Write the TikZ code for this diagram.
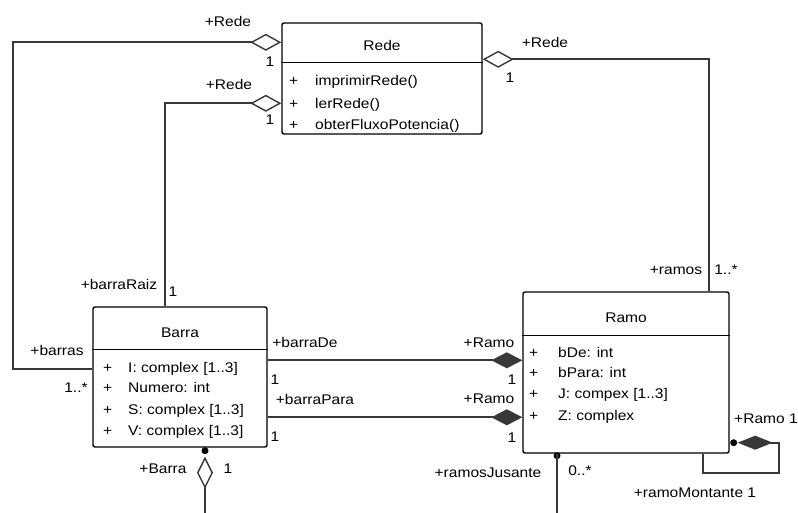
\documentclass[tikz,border=0pt]{standalone}
\usepackage{fontspec}
\setmainfont{Liberation Sans}[FakeStretch=1.11]
\usetikzlibrary{arrows.meta}
\begin{document}
\begin{tikzpicture}[x=1pt,y=-1pt,
  font=\fontsize{14}{16}\selectfont,
  umlbox/.style={draw=black, line width=1.4pt, fill=white, rounded corners=2pt, inner sep=0pt},
  conn/.style={draw=black!78, line width=1.8pt},
  agg/.style={conn, {Diamond[open, length=31pt, width=17pt, line width=1.4pt]}-},
  comp/.style={conn, {Diamond[length=31pt, width=16pt]}-},
  lbl/.style={inner sep=0pt, anchor=base},
  lblw/.style={inner sep=0pt, anchor=base west},
  row/.style={inner sep=0pt, anchor=base west},
  title/.style={inner sep=0pt, anchor=base},
  dot/.style={fill=black}
]
\useasboundingbox (0,0) rectangle (798,513);

% ---------- classes ----------
\node[umlbox, minimum width=200pt, minimum height=111pt] (rede) at (382,78.5) {};
\draw[line width=1.4pt] ([yshift=-40pt]rede.north west) -- ([yshift=-40pt]rede.north east);
\node[title] (rede-t) at (382,51) {Rede};
\node[row] (rede-p1) at (289,86) {+};
\node[row] (rede-p2) at (289,109) {+};
\node[row] (rede-p3) at (289,130) {+};
\node[row] (rede-r1) at (315,86) {imprimirRede()};
\node[row] (rede-r2) at (315,109) {lerRede()};
\node[row] (rede-r3) at (315,130) {obterFluxoPotencia()};

\node[umlbox, minimum width=174pt, minimum height=140pt] (barra) at (180,377) {};
\draw[line width=1.4pt] ([yshift=-43pt]barra.north west) -- ([yshift=-43pt]barra.north east);
\node[title] (barra-t) at (180,337) {Barra};
\node[row] (barra-p1) at (103,372) {+};
\node[row] (barra-p2) at (103,392) {+};
\node[row] (barra-p3) at (103,414) {+};
\node[row] (barra-p4) at (103,435) {+};
\node[row] (barra-r1) at (128,372) {I: complex [1..3]};
\node[row] (barra-r2) at (128,392) {Numero: int};
\node[row] (barra-r3) at (128,414) {S: complex [1..3]};
\node[row] (barra-r4) at (128,435) {V: complex [1..3]};

\node[umlbox, minimum width=206pt, minimum height=161pt] (ramo) at (626,372.5) {};
\draw[line width=1.4pt] ([yshift=-44pt]ramo.north west) -- ([yshift=-44pt]ramo.north east);
\node[title] (ramo-t) at (626,322) {Ramo};
\node[row] (ramo-p1) at (529,357) {+};
\node[row] (ramo-p2) at (529,377) {+};
\node[row] (ramo-p3) at (529,398) {+};
\node[row] (ramo-p4) at (529,420) {+};
\node[row] (ramo-r1) at (558,357) {bDe: int};
\node[row] (ramo-r2) at (558,377) {bPara: int};
\node[row] (ramo-r3) at (558,398) {J: compex [1..3]};
\node[row] (ramo-r4) at (558,420) {Z: complex};

% ---------- connector bends ----------
\coordinate (c1) at (13,200);
\coordinate (c2) at (165,200);
\coordinate (c3) at (709,200);
\coordinate (sb) at (205,520);
\coordinate (rb) at (557,520);
\coordinate (s1) at (779,473);
\coordinate (s2) at (703,473);

% Rede -- Barra (barras)
\draw[agg] ([yshift=-20pt]rede.north west) -| (c1) |- ([yshift=-63pt]barra.north west);
% Rede -- Barra (barraRaiz)
\draw[agg] ([yshift=-81pt]rede.north west) -| (c2) -- (c2 |- barra.north);
% Rede -- Ramo (ramos)
\draw[agg] ([yshift=-37pt]rede.north east) -| (c3) -- (c3 |- ramo.north);
% Barra -- Ramo
\draw[comp] ([yshift=-69pt]ramo.north west) -- ([yshift=-54pt]barra.north west -| barra.east);
\draw[comp] ([yshift=-126pt]ramo.north west) -- ([yshift=-111pt]barra.north west -| barra.east);
% Barra bottom
\fill[dot] ([xshift=25pt,yshift=-3pt]barra.south) circle (3.5pt);
\draw[conn, {Diamond[open, length=32pt, width=16pt, line width=1.4pt]}-] ([xshift=25pt,yshift=-9pt]barra.south) -- (sb);
% Ramo bottom
\fill[dot] ([xshift=-69pt,yshift=-2pt]ramo.south) circle (3.5pt);
\draw[conn] ([xshift=-69pt]ramo.south) -- (rb);
% Ramo self association
\fill[dot] ([xshift=4pt,yshift=11pt]ramo.south east) circle (3.5pt);
\draw[conn, {Diamond[length=35pt, width=14pt]}-] ([xshift=8pt,yshift=11pt]ramo.south east) -| (s1) -- (s2) -- (s2 |- ramo.south);

% ---------- labels ----------
\node[lbl] (l1) at (228,27) {+Rede};
\node[lbl] (l2) at (270,67) {1};
\node[lbl] (l3) at (229,90) {+Rede};
\node[lbl] (l4) at (270,125) {1};
\node[lbl] (l5) at (545,48) {+Rede};
\node[lbl] (l6) at (510,83) {1};
\node[lbl] (l7) at (119,290) {+barraRaiz};
\node[lbl] (l8) at (173,296) {1};
\node[lbl] (l9) at (57,355) {+barras};
\node[lbl] (l10) at (76,392) {1..*};
\node[lbl] (l11) at (163,473) {+Barra};
\node[lbl] (l12) at (228,473) {1};
\node[lbl] (l13) at (305,347) {+barraDe};
\node[lbl] (l14) at (275,384) {1};
\node[lbl] (l15) at (315,404) {+barraPara};
\node[lbl] (l16) at (275,441) {1};
\node[lbl] (l17) at (489,347) {+Ramo};
\node[lbl] (l18) at (512,384) {1};
\node[lbl] (l19) at (489,403) {+Ramo};
\node[lbl] (l20) at (512,442) {1};
\node[lbl] (l21) at (488,477) {+ramosJusante};
\node[lbl] (l22) at (580,475) {0..*};
\node[lbl] (l23) at (676,275) {+ramos};
\node[lbl] (l24) at (726,275) {1..*};
\node[lblw] (l25) at (734,423) {+Ramo 1};
\node[lbl] (l26) at (695,497) {+ramoMontante 1};
\end{tikzpicture}
\end{document}
